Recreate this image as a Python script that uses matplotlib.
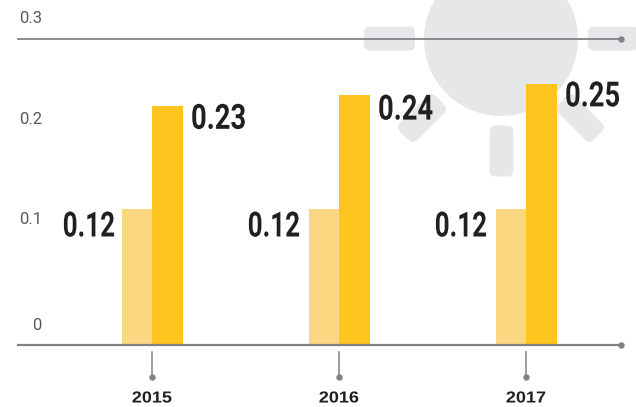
import matplotlib
matplotlib.use("Agg")
import matplotlib.pyplot as plt
from matplotlib.patches import Circle, FancyBboxPatch
from matplotlib.patheffects import AbstractPathEffect
from matplotlib.transforms import Affine2D

years = ["2015", "2016", "2017"]
light_heights = [0.133, 0.133, 0.133]
dark_heights = [0.234, 0.245, 0.256]
light_labels = ["0.12", "0.12", "0.12"]
dark_labels = ["0.23", "0.24", "0.25"]
y_ticks = [0, 0.1, 0.2, 0.3]
y_tick_labels = ["0", "0.1", "0.2", "0.3"]

W, H = 636, 407
GREY = "#808285"
SUN = "#e6e7e8"
INK = "#231f20"
fig = plt.figure(figsize=(W / 100, H / 100), dpi=100, facecolor="white")


class StretchX(AbstractPathEffect):
    """Draw a text horizontally scaled about a fixed display x."""

    def __init__(self, sx, pivot):
        super().__init__()
        self.sx, self.pivot = sx, pivot

    def draw_path(self, renderer, gc, tpath, affine, rgbFace=None):
        t = affine + Affine2D().translate(-self.pivot, 0).scale(self.sx, 1).translate(self.pivot, 0)
        renderer.draw_path(gc, tpath, t, rgbFace)


# Background sun, in pixel coordinates
bg = fig.add_axes([0, 0, 1, 1], zorder=0)
bg.set_xlim(0, W)
bg.set_ylim(H, 0)
bg.axis("off")
bg.add_patch(Circle((501, 39), 77, fc=SUN, ec="none"))


def ray(cx, cy, w, h, angle=0):
    r = 6
    p = FancyBboxPatch((cx - w / 2 + r, cy - h / 2 + r), w - 2 * r, h - 2 * r,
                       boxstyle=f"round,pad={r},rounding_size={r}", fc=SUN, ec="none")
    p.set_transform(Affine2D().rotate_deg_around(cx, cy, angle) + bg.transData)
    bg.add_patch(p)


ray(389.5, 38.5, 51, 24)
ray(613, 38.5, 50, 24)
ray(501.5, 151, 24, 51)
ray(422, 118, 24, 50, 45)
ray(580, 118, 24, 50, -45)

# Data axes
left, right, top, base = 18, 622, 39, 345
ax = fig.add_axes([left / W, 1 - base / H, (right - left) / W, (base - top) / H], zorder=1)
ax.patch.set_alpha(0)
spacing = 187
c0 = 152.5
ax.set_xlim((left - c0) / spacing, (right - c0) / spacing)
ax.set_ylim(0, 0.3)
ax.axis("off")
PX = 0.3 / (base - top)  # one pixel in y data units


def pivot_of(x):
    return ax.transData.transform((x, 0))[0]


bw = 31 / spacing
for i in range(len(years)):
    ax.bar(i - 15 / spacing, light_heights[i], bw, color="#fdd682", zorder=2)
    ax.bar(i + 15.5 / spacing, dark_heights[i], bw, color="#fec41f", zorder=3)

# Lines with end dots
x0, x1 = ax.get_xlim()
ax.plot([x0, x1], [0.3, 0.3], color=GREY, lw=1.3, clip_on=False, zorder=4)
ax.plot([x0, x1], [0, 0], color=GREY, lw=1.6, clip_on=False, zorder=4)
ax.plot([x1 - 1 / spacing] * 2, [0, 0.3], ls="none", marker="o", ms=3.6, color=GREY,
        clip_on=False, zorder=5)

for i, y in enumerate(years):
    x = i - 0.5 / spacing
    ax.plot([x, x], [-7 * PX, -32 * PX], color=GREY, lw=1.1, clip_on=False, zorder=3)
    ax.plot([x], [-32 * PX], marker="o", ms=3.6, color=GREY, clip_on=False, zorder=3)
    ax.text(x, -53 * PX, y, ha="center", va="center", fontsize=11.5, fontweight="bold",
            family="Liberation Sans", color=INK, clip_on=False,
            path_effects=[StretchX(1.13, pivot_of(x))])

# Value labels
narrow = dict(family="Roboto", fontweight="bold", fontsize=25, color=INK, va="center", zorder=6,
              clip_on=False)
light_gap = [37.5, 39.5, 39.5]
dark_drop = [13, 15, 13]
for i in range(len(years)):
    xl = i - light_gap[i] / spacing
    ax.text(xl, 118 * PX, light_labels[i], ha="right",
            path_effects=[StretchX(0.75, pivot_of(xl))], **narrow)
    xd = i + 38.5 / spacing
    ax.text(xd, dark_heights[i] - dark_drop[i] * PX, dark_labels[i], ha="left",
            path_effects=[StretchX(0.79, pivot_of(xd))], **narrow)

# Y tick labels, set above their gridline positions
tick_y_px = [19, 126, 226, 327]
for t, p in zip(y_tick_labels, tick_y_px):
    ax.text((42 - c0) / spacing, p * PX, t, ha="right", va="center",
            fontsize=12, family="Roboto", fontweight="normal", color="#58595b", zorder=6)

fig.savefig("out.png", dpi=100)
